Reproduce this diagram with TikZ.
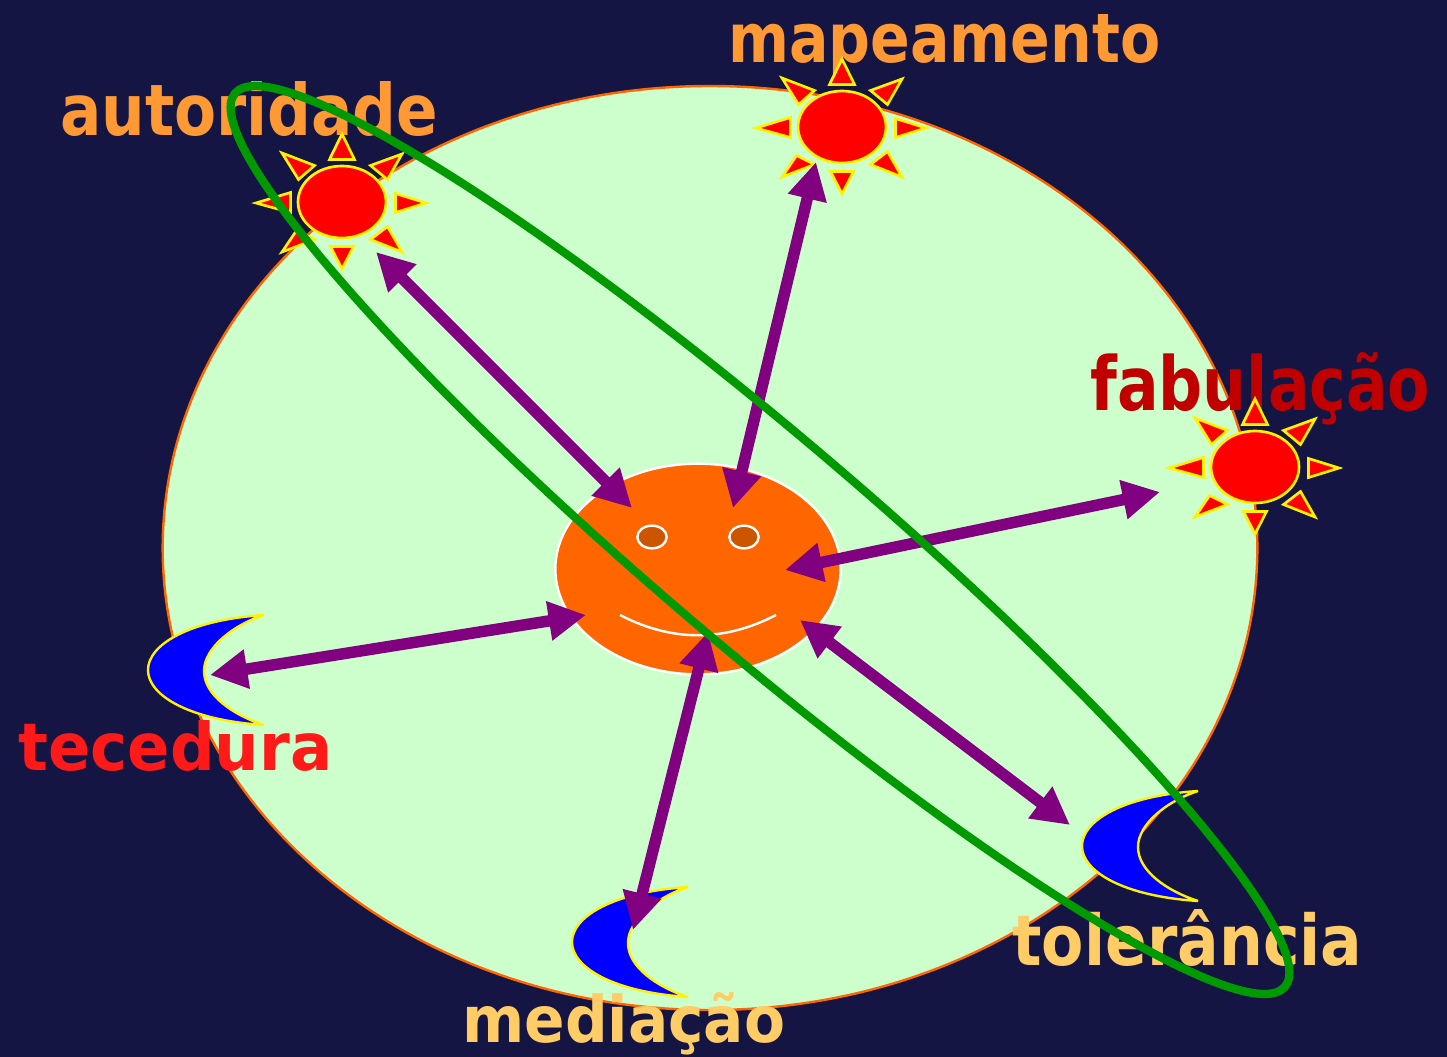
\documentclass[tikz,border=0pt]{standalone}
\usepackage{fontspec}
\usepackage{graphicx}
\setmainfont{DejaVu Sans}
\usetikzlibrary{arrows.meta}
\definecolor{bgnavy}{HTML}{151543}
\definecolor{pale}{HTML}{CCFFCC}
\definecolor{ringorange}{HTML}{FF6600}
\definecolor{eyebrown}{HTML}{CC5500}
\definecolor{arrowpurple}{HTML}{800080}
\definecolor{ringgreen}{HTML}{009900}
\definecolor{lblorange}{HTML}{FF9933}
\definecolor{lblyellow}{HTML}{FFCC66}
\definecolor{lbldark}{HTML}{C00000}
\definecolor{lblred}{HTML}{FF1A1A}
\newlength\pxu \pxu=0.75pt
\tikzset{
  link/.style={draw=arrowpurple,line width=8.6pt,{Triangle[length=28pt,width=28pt]}-{Triangle[length=28pt,width=28pt]}},
  ray/.style={draw=yellow,fill=red,line width=2pt,miter limit=10},
  lunar/.style={draw=yellow,fill=blue,line width=1.8pt,line join=miter,miter limit=3},
  lbl/.style={inner sep=0pt,anchor=base west,font=\bfseries},
}
\newcommand{\sunshape}[3]{%
  \begin{scope}[shift={(#1,#2)}]
    \coordinate (#3) at (0,0);
    \draw[ray] (0,-68)--(12.5,-42.5)--(-12.5,-42.5)--cycle;
    \draw[ray] (84,1)--(53.5,-8.5)--(53.5,10.5)--cycle;
    \draw[ray] (0,67)--(-11.5,44.5)--(11.5,44.5)--cycle;
    \draw[ray] (-86,1)--(-51.5,-9.5)--(-51.5,10.5)--cycle;
    \draw[ray] (60,-48)--(28.5,-36.5)--(45.5,-22.5)--cycle;
    \draw[ray] (-60,-49)--(-27.5,-36.5)--(-43.5,-22.5)--cycle;
    \draw[ray] (60,50)--(45.5,24.5)--(28.5,37.5)--cycle;
    \draw[ray] (-60,50)--(-45.5,28.5)--(-27.5,37.5)--cycle;
    \draw[draw=yellow,fill=red,line width=2pt] (0,0) ellipse [x radius=33pt,y radius=27pt];
  \end{scope}}
\newcommand{\moonshape}[3]{%
  \begin{scope}[shift={(#1,#2)}]
    \coordinate (#3) at (0,0);
    \draw[lunar] (116,-55) .. controls (40,-50) and (0,-25) .. (0,0)
       .. controls (0,25) and (40,50) .. (116,55)
       .. controls (85,45) and (56,25) .. (56,1)
       .. controls (56,-22) and (85,-45) .. (116,-55) -- cycle;
  \end{scope}}
\begin{document}
\begin{tikzpicture}[x=0.75pt,y=-0.75pt]
  \useasboundingbox (0,0) rectangle (1447,1057);
  \fill[bgnavy] (0,0) rectangle (1447,1057);
  \draw[ringorange,fill=pale,line width=1.8pt] (710,548) ellipse [x radius=410.5pt,y radius=346.5pt];
  \node[lbl,text=lblorange] (autoridade) at (60,135) {\resizebox{378\pxu}{54\pxu}{autoridade}};
  \node[lbl,text=lblorange] (mapeamento) at (728,62) {\resizebox{432\pxu}{48\pxu}{mapeamento}};
  \node[lbl,text=lbldark] (fabulacao) at (1090,410) {\resizebox{340\pxu}{58\pxu}{fabulação}};
  \node[lbl,text=lblred] (tecedura) at (18,770) {\resizebox{314\pxu}{50\pxu}{tecedura}};
  \node[lbl,text=lblyellow] (tolerancia) at (1012,965) {\resizebox{350\pxu}{56\pxu}{tolerância}};
  \node[lbl,text=lblyellow] (mediacao) at (462,1042) {\resizebox{323\pxu}{50\pxu}{mediação}};
  \sunshape{342}{202}{sunA}
  \sunshape{842}{127}{sunB}
  \sunshape{1255}{467}{sunC}
  \moonshape{148}{670}{moonA}
  \moonshape{1082}{846}{moonB}
  \moonshape{572}{942}{moonC}
  \draw[draw=white,fill=ringorange,line width=1.8pt] (698,569) ellipse [x radius=107pt,y radius=79pt];
  \draw[draw=white,fill=eyebrown,line width=1.8pt] (652,537) ellipse [x radius=11pt,y radius=8.5pt];
  \draw[draw=white,fill=eyebrown,line width=1.8pt] (744,537) ellipse [x radius=11pt,y radius=8.5pt];
  \draw[white,line width=1.8pt] (620,615) .. controls (672,642) and (724,642) .. (776,615);
  \coordinate (a1) at (376,252); \coordinate (a2) at (632,508);
  \coordinate (b1) at (816,162); \coordinate (b2) at (733,508);
  \coordinate (c1) at (1160,492); \coordinate (c2) at (785,570);
  \coordinate (d1) at (210,675); \coordinate (d2) at (586,615);
  \coordinate (e1) at (800,620); \coordinate (e2) at (1070,825);
  \coordinate (f1) at (708,632); \coordinate (f2) at (633,930);
  \draw[link] (a1)--(a2);
  \draw[link] (b1)--(b2);
  \draw[link] (c1)--(c2);
  \draw[link] (d1)--(d2);
  \draw[link] (e1)--(e2);
  \draw[link] (f1)--(f2);
  \draw[ringgreen,line width=6.2pt,rotate around={-40.4:(760,540)}] (760,540) ellipse [x radius=517pt,y radius=79pt];
\end{tikzpicture}
\end{document}
